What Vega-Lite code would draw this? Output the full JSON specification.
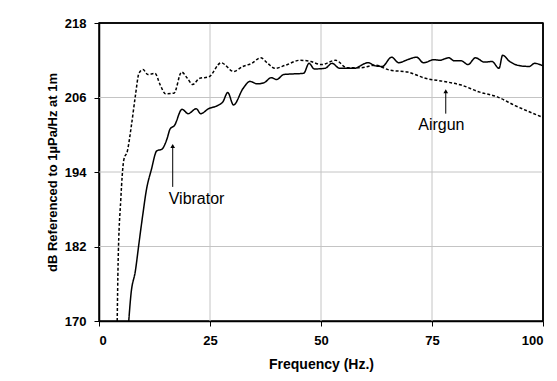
{
  "$schema": "https://vega.github.io/schema/vega-lite/v6.json",
  "width": 557,
  "height": 381,
  "autosize": {"type": "fit", "contains": "padding"},
  "padding": {"left": 46, "top": 17, "right": 11, "bottom": 10},
  "background": "white",
  "config": {
    "view": {"stroke": "black", "strokeWidth": 1.5},
    "axis": {
      "labelFont": "Liberation Sans", "labelFontWeight": "bold", "labelFontSize": 13, "labelColor": "black",
      "titleFont": "Liberation Sans", "titleFontWeight": "bold", "titleFontSize": 13, "titleColor": "black",
      "domainColor": "black", "domainWidth": 1.5, "tickColor": "black", "tickSize": 5, "tickWidth": 1,
      "grid": false
    }
  },
  "datasets": {
    "curves": [
      {"f": 4.1, "db": 170, "s": "Airgun"},
      {"f": 4.3, "db": 179.2, "s": "Airgun"},
      {"f": 4.9, "db": 189.5, "s": "Airgun"},
      {"f": 5.6, "db": 196, "s": "Airgun"},
      {"f": 6.4, "db": 197.4, "s": "Airgun"},
      {"f": 7.3, "db": 201.5, "s": "Airgun"},
      {"f": 8.2, "db": 206.3, "s": "Airgun"},
      {"f": 9.0, "db": 209.9, "s": "Airgun"},
      {"f": 9.9, "db": 210.5, "s": "Airgun"},
      {"f": 11, "db": 209.7, "s": "Airgun"},
      {"f": 12.6, "db": 209.9, "s": "Airgun"},
      {"f": 13.8, "db": 208, "s": "Airgun"},
      {"f": 15, "db": 206.6, "s": "Airgun"},
      {"f": 16.9, "db": 206.7, "s": "Airgun"},
      {"f": 18.6, "db": 210.1, "s": "Airgun"},
      {"f": 19.9, "db": 209.1, "s": "Airgun"},
      {"f": 21.1, "db": 208.1, "s": "Airgun"},
      {"f": 22.7, "db": 209.1, "s": "Airgun"},
      {"f": 24.7, "db": 209.3, "s": "Airgun"},
      {"f": 27.5, "db": 211.6, "s": "Airgun"},
      {"f": 30.3, "db": 210.2, "s": "Airgun"},
      {"f": 32.4, "db": 211, "s": "Airgun"},
      {"f": 34.4, "db": 211.5, "s": "Airgun"},
      {"f": 36.4, "db": 212.4, "s": "Airgun"},
      {"f": 38, "db": 211.5, "s": "Airgun"},
      {"f": 39.6, "db": 210.7, "s": "Airgun"},
      {"f": 42, "db": 211.2, "s": "Airgun"},
      {"f": 45.3, "db": 212, "s": "Airgun"},
      {"f": 47.7, "db": 211.8, "s": "Airgun"},
      {"f": 50.1, "db": 211.3, "s": "Airgun"},
      {"f": 53.3, "db": 212, "s": "Airgun"},
      {"f": 55.8, "db": 210.8, "s": "Airgun"},
      {"f": 59, "db": 210.8, "s": "Airgun"},
      {"f": 62.2, "db": 211.2, "s": "Airgun"},
      {"f": 65.5, "db": 210.4, "s": "Airgun"},
      {"f": 69.5, "db": 210.1, "s": "Airgun"},
      {"f": 73.5, "db": 209.1, "s": "Airgun"},
      {"f": 77.6, "db": 208.6, "s": "Airgun"},
      {"f": 81.6, "db": 208, "s": "Airgun"},
      {"f": 85.6, "db": 206.9, "s": "Airgun"},
      {"f": 89.7, "db": 206.1, "s": "Airgun"},
      {"f": 93.7, "db": 204.7, "s": "Airgun"},
      {"f": 100, "db": 202.8, "s": "Airgun"},
      {"f": 6.7, "db": 170, "s": "Vibrator"},
      {"f": 7.2, "db": 174.3, "s": "Vibrator"},
      {"f": 8.2, "db": 178.1, "s": "Vibrator"},
      {"f": 9, "db": 182.5, "s": "Vibrator"},
      {"f": 9.8, "db": 186.8, "s": "Vibrator"},
      {"f": 10.7, "db": 191.2, "s": "Vibrator"},
      {"f": 11.8, "db": 194.4, "s": "Vibrator"},
      {"f": 13, "db": 197.4, "s": "Vibrator"},
      {"f": 14.2, "db": 197.7, "s": "Vibrator"},
      {"f": 15.3, "db": 199.3, "s": "Vibrator"},
      {"f": 16, "db": 200.9, "s": "Vibrator"},
      {"f": 17, "db": 201.5, "s": "Vibrator"},
      {"f": 18.7, "db": 204.1, "s": "Vibrator"},
      {"f": 20.1, "db": 203.4, "s": "Vibrator"},
      {"f": 21.9, "db": 204.2, "s": "Vibrator"},
      {"f": 22.9, "db": 203.4, "s": "Vibrator"},
      {"f": 24.7, "db": 204.2, "s": "Vibrator"},
      {"f": 26.7, "db": 204.7, "s": "Vibrator"},
      {"f": 27.9, "db": 205.3, "s": "Vibrator"},
      {"f": 29, "db": 206.8, "s": "Vibrator"},
      {"f": 30.3, "db": 204.8, "s": "Vibrator"},
      {"f": 32.4, "db": 207.4, "s": "Vibrator"},
      {"f": 34, "db": 208.6, "s": "Vibrator"},
      {"f": 35.6, "db": 208.2, "s": "Vibrator"},
      {"f": 37.2, "db": 208.4, "s": "Vibrator"},
      {"f": 38.8, "db": 209.2, "s": "Vibrator"},
      {"f": 40, "db": 208.9, "s": "Vibrator"},
      {"f": 41.6, "db": 209.7, "s": "Vibrator"},
      {"f": 43.7, "db": 209.8, "s": "Vibrator"},
      {"f": 46.1, "db": 209.9, "s": "Vibrator"},
      {"f": 47.3, "db": 211.5, "s": "Vibrator"},
      {"f": 48.5, "db": 210.6, "s": "Vibrator"},
      {"f": 50.9, "db": 210.7, "s": "Vibrator"},
      {"f": 52.5, "db": 211.5, "s": "Vibrator"},
      {"f": 54.2, "db": 210.7, "s": "Vibrator"},
      {"f": 57.4, "db": 210.7, "s": "Vibrator"},
      {"f": 60.6, "db": 211.6, "s": "Vibrator"},
      {"f": 62.2, "db": 211.1, "s": "Vibrator"},
      {"f": 63.8, "db": 211, "s": "Vibrator"},
      {"f": 65.9, "db": 212.5, "s": "Vibrator"},
      {"f": 67.5, "db": 211.6, "s": "Vibrator"},
      {"f": 69.5, "db": 212.1, "s": "Vibrator"},
      {"f": 71.5, "db": 212.5, "s": "Vibrator"},
      {"f": 73.1, "db": 211.6, "s": "Vibrator"},
      {"f": 75.5, "db": 212.1, "s": "Vibrator"},
      {"f": 76.7, "db": 212, "s": "Vibrator"},
      {"f": 78.8, "db": 212.4, "s": "Vibrator"},
      {"f": 80, "db": 211.9, "s": "Vibrator"},
      {"f": 81.6, "db": 211.9, "s": "Vibrator"},
      {"f": 83.1, "db": 211.3, "s": "Vibrator"},
      {"f": 84.8, "db": 212.4, "s": "Vibrator"},
      {"f": 86.8, "db": 211.7, "s": "Vibrator"},
      {"f": 88.5, "db": 211.8, "s": "Vibrator"},
      {"f": 90.1, "db": 210.7, "s": "Vibrator"},
      {"f": 90.9, "db": 212.8, "s": "Vibrator"},
      {"f": 92.5, "db": 211.8, "s": "Vibrator"},
      {"f": 94.9, "db": 211.1, "s": "Vibrator"},
      {"f": 96.9, "db": 211, "s": "Vibrator"},
      {"f": 98.1, "db": 211.5, "s": "Vibrator"},
      {"f": 100, "db": 211.1, "s": "Vibrator"}
    ],
    "xgrid": [{"v": 25}, {"v": 50}, {"v": 75}],
    "ygrid": [{"v": 182}, {"v": 194}, {"v": 206}],
    "xframe": [{"v": 100}],
    "yframe": [{"v": 218}],
    "notes": [
      {"label": "Vibrator", "tx": 15.7, "ty": 189.6, "ax": 16.6, "y0": 191.6, "y1": 198.2},
      {"label": "Airgun", "tx": 71.9, "ty": 201.5, "ax": 78.1, "y0": 203.4, "y1": 207.0}
    ]
  },
  "layer": [
    {
      "data": {"name": "xgrid"},
      "mark": {"type": "rule", "color": "#c4c4c4", "strokeWidth": 1},
      "encoding": {
        "x": {"field": "v", "type": "quantitative",
              "scale": {"domain": [0, 100], "nice": false, "zero": false},
              "axis": {"values": [0, 25, 50, 75, 100], "title": "Frequency (Hz.)", "titleFontSize": 14, "labelPadding": 8, "titlePadding": 10}}
      }
    },
    {
      "data": {"name": "ygrid"},
      "mark": {"type": "rule", "color": "#c4c4c4", "strokeWidth": 1},
      "encoding": {
        "y": {"field": "v", "type": "quantitative",
              "scale": {"domain": [170, 218], "nice": false, "zero": false},
              "axis": {"values": [170, 182, 194, 206, 218], "title": "dB Referenced  to 1µPa/Hz at 1m", "labelPadding": 8, "titlePadding": 5, "minExtent": 35, "maxExtent": 35}}
      }
    },
    {
      "data": {"name": "curves"},
      "mark": {"type": "line", "color": "black", "strokeWidth": 1.5, "interpolate": "monotone"},
      "encoding": {
        "x": {"field": "f", "type": "quantitative"},
        "y": {"field": "db", "type": "quantitative"},
        "detail": {"field": "s"},
        "strokeDash": {"field": "s", "type": "nominal",
                       "scale": {"domain": ["Airgun", "Vibrator"], "range": [[3, 2], [1, 0]]},
                       "legend": null}
      }
    },
    {
      "data": {"name": "xframe"},
      "mark": {"type": "rule", "color": "black", "strokeWidth": 1.5},
      "encoding": {"x": {"field": "v", "type": "quantitative"}}
    },
    {
      "data": {"name": "yframe"},
      "mark": {"type": "rule", "color": "black", "strokeWidth": 1.5},
      "encoding": {"y": {"field": "v", "type": "quantitative"}}
    },
    {
      "data": {"name": "notes"},
      "mark": {"type": "rule", "color": "black", "strokeWidth": 1},
      "encoding": {
        "x": {"field": "ax", "type": "quantitative"},
        "y": {"field": "y0", "type": "quantitative"},
        "y2": {"field": "y1"}
      }
    },
    {
      "data": {"name": "notes"},
      "mark": {"type": "point", "shape": "triangle-up", "filled": true, "color": "black", "size": 22, "opacity": 1},
      "encoding": {
        "x": {"field": "ax", "type": "quantitative"},
        "y": {"field": "y1", "type": "quantitative"}
      }
    },
    {
      "data": {"name": "notes"},
      "mark": {"type": "text", "align": "left", "baseline": "middle", "font": "Liberation Sans", "fontSize": 16, "color": "black"},
      "encoding": {
        "x": {"field": "tx", "type": "quantitative"},
        "y": {"field": "ty", "type": "quantitative"},
        "text": {"field": "label"}
      }
    }
  ]
}
